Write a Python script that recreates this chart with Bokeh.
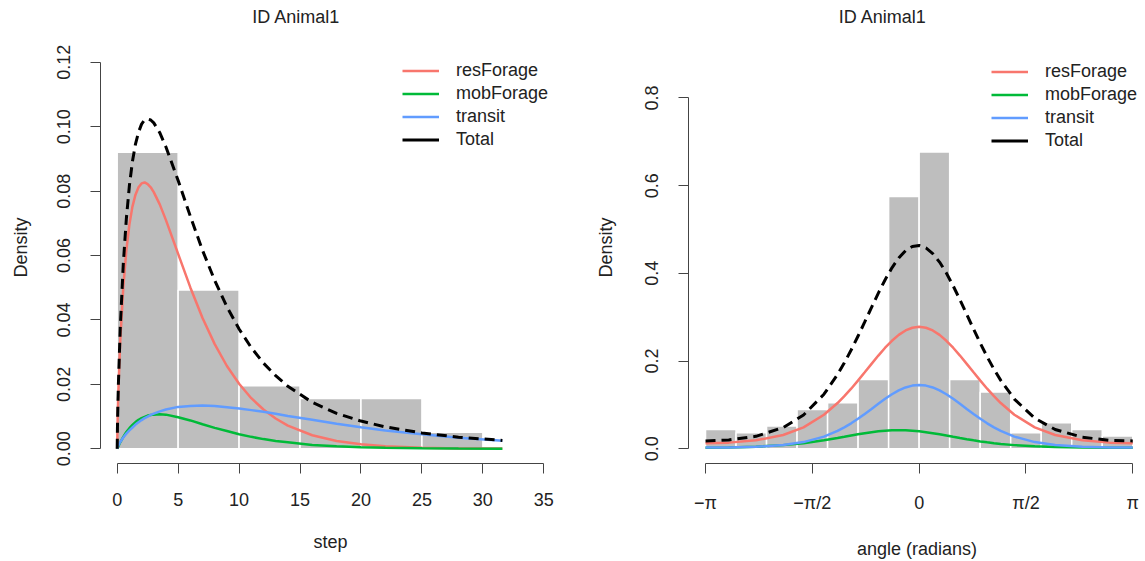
import math
from bokeh.plotting import figure
from bokeh.layouts import row
from bokeh.models import FixedTicker, Legend, LegendItem, Title, NumeralTickFormatter
from bokeh.embed import file_html
from bokeh.resources import INLINE

# ---------------- data ----------------
state_names = ["resForage", "mobForage", "transit", "Total"]
state_colors = ["#F8766D", "#00BA38", "#619CFF", "#000000"]

# step histogram (density)
step_left = [0, 5, 10, 15, 20, 25]
step_right = [5, 10, 15, 20, 25, 30]
step_density = [0.0921, 0.0493, 0.0196, 0.0156, 0.0156, 0.0051]

# step density curves
step_x = [0, 0.02, 0.05, 0.1, 0.25, 0.5, 0.75, 1, 1.25, 1.5, 1.75, 2, 2.25, 2.5,
          2.75, 3, 3.5, 4, 5, 6, 7, 8, 9, 10, 11, 12, 13, 14, 16, 18, 20, 22,
          25, 28, 31.6]
step_res = [0, 0.0062, 0.0116, 0.0185, 0.0335, 0.0502, 0.0616, 0.0696, 0.0752,
            0.0789, 0.0812, 0.0824, 0.0827, 0.0822, 0.0812, 0.0797, 0.0758,
            0.0710, 0.0605, 0.0501, 0.0406, 0.0325, 0.0257, 0.0202, 0.0157,
            0.0122, 0.0094, 0.0072, 0.0042, 0.0024, 0.0014, 0.0008, 0.0003,
            0.0001, 0.00005]
step_mob = [0, 0.0002, 0.0004, 0.0008, 0.0020, 0.0037, 0.0052, 0.0064, 0.0074,
            0.0083, 0.0090, 0.0095, 0.0099, 0.0103, 0.0105, 0.0106, 0.0107,
            0.0106, 0.0098, 0.0088, 0.0076, 0.0065, 0.0055, 0.0045, 0.0037,
            0.0030, 0.0024, 0.0020, 0.0012, 0.0008, 0.0005, 0.0003, 0.00014,
            0.00006, 0.00003]
step_transit = [0, 0.0004, 0.0006, 0.0010, 0.0021, 0.0035, 0.0047, 0.0057,
                0.0066, 0.0075, 0.0082, 0.0089, 0.0095, 0.0100, 0.0105, 0.0109,
                0.0116, 0.0122, 0.0130, 0.0133, 0.0134, 0.0133, 0.0129, 0.0125,
                0.0120, 0.0115, 0.0109, 0.0102, 0.0090, 0.0078, 0.0067, 0.0057,
                0.0045, 0.0034, 0.0025]
step_total = [0, 0.0064, 0.0125, 0.0203, 0.0375, 0.0574, 0.0714, 0.0817, 0.0892,
              0.0946, 0.0983, 0.1008, 0.1021, 0.1024, 0.1021, 0.1012, 0.0981,
              0.0937, 0.0833, 0.0722, 0.0616, 0.0523, 0.0441, 0.0372, 0.0314,
              0.0266, 0.0227, 0.0194, 0.0144, 0.0110, 0.0086, 0.0068, 0.0049,
              0.0036, 0.0026]
step_ticks = [0, 5, 10, 15, 20, 25, 30, 35]
step_density_ticks = [0, 0.02, 0.04, 0.06, 0.08, 0.10, 0.12]

# angle histogram (density), 14 bins over [-pi, pi]
angle_left = [-3.1416, -2.6928, -2.2440, -1.7952, -1.3464, -0.8976, -0.4488,
              0.0, 0.4488, 0.8976, 1.3464, 1.7952, 2.2440, 2.6928]
angle_right = [-2.6928, -2.2440, -1.7952, -1.3464, -0.8976, -0.4488, 0.0,
               0.4488, 0.8976, 1.3464, 1.7952, 2.2440, 2.6928, 3.1416]
angle_density = [0.044, 0.0365, 0.0517, 0.0898, 0.105, 0.158, 0.575, 0.6766,
                 0.158, 0.1294, 0.0365, 0.0594, 0.044, 0.0289]

# angle density curves
angle_x = [-3.1416, -2.8, -2.4, -2.0, -1.7, -1.4, -1.2,
           -1.1, -1.0, -0.9, -0.8, -0.7, -0.6, -0.5, -0.4, -0.3, -0.2, -0.1, 0.0,
           0.1, 0.2, 0.3, 0.4, 0.5, 0.6, 0.7, 0.8, 0.9, 1.0, 1.1, 1.2,
           1.4, 1.7, 2.0, 2.4, 2.8, 3.1416]
angle_res = [0.0128, 0.0140, 0.0192, 0.0314, 0.0489, 0.0775, 0.1042,
             0.1199, 0.1370, 0.1553, 0.1744, 0.1936, 0.2125, 0.2304, 0.2463,
             0.2597, 0.2698, 0.2760, 0.2782,
             0.2760, 0.2698, 0.2597, 0.2463, 0.2304, 0.2125, 0.1936, 0.1744,
             0.1553, 0.1370, 0.1199, 0.1042,
             0.0775, 0.0489, 0.0314, 0.0192, 0.0140, 0.0128]
angle_mob = [0.0025, 0.0031, 0.0048, 0.0083, 0.0127, 0.0192, 0.0245,
             0.0273, 0.0302, 0.0329, 0.0355, 0.0379, 0.0398, 0.0412, 0.0421,
             0.0424, 0.0421, 0.0412, 0.0398,
             0.0379, 0.0355, 0.0329, 0.0302, 0.0273, 0.0245, 0.0218, 0.0192,
             0.0168, 0.0147, 0.0127, 0.0110,
             0.0083, 0.0055, 0.0038, 0.0027, 0.0023, 0.0025]
angle_transit = [0.0027, 0.0030, 0.0045, 0.0086, 0.0152, 0.0277, 0.0407,
                 0.0488, 0.0580, 0.0683, 0.0793, 0.0909, 0.1026, 0.1139,
                 0.1243, 0.1331, 0.1398, 0.1440, 0.1455,
                 0.1440, 0.1398, 0.1331, 0.1243, 0.1139, 0.1026, 0.0909,
                 0.0793, 0.0683, 0.0580, 0.0488, 0.0407,
                 0.0277, 0.0152, 0.0086, 0.0045, 0.0030, 0.0027]
angle_total = [0.0179, 0.0201, 0.0284, 0.0483, 0.0769, 0.1244, 0.1694,
               0.1960, 0.2252, 0.2565, 0.2892, 0.3224, 0.3549, 0.3855, 0.4127,
               0.4352, 0.4517, 0.4612, 0.4635,
               0.4579, 0.4451, 0.4257, 0.4008, 0.3716, 0.3396, 0.3063, 0.2729,
               0.2404, 0.2097, 0.1814, 0.1559,
               0.1134, 0.0696, 0.0438, 0.0263, 0.0193, 0.0179]
angle_ticks = [-math.pi, -math.pi / 2, 0, math.pi / 2, math.pi]
angle_tick_labels = ["\u2212\u03c0", "\u2212\u03c0/2", "0", "\u03c0/2", "\u03c0"]
angle_density_ticks = [0, 0.2, 0.4, 0.6, 0.8]

panel_title = "ID Animal1"
y_label = "Density"
step_label = "step"
angle_label = "angle (radians)"

# ---------------- style ----------------
FONT = "Liberation Sans"
TXT = "#222222"
AXC = "#444444"
FS = "18px"


def make_title(offset):
    return Title(text=panel_title, align="left", offset=offset,
                 vertical_align="bottom", standoff=9,
                 text_font=FONT, text_font_size=FS, text_font_style="normal",
                 text_color=TXT)


def style_axes(p, ylab_standoff):
    p.outline_line_color = None
    p.xgrid.visible = False
    p.ygrid.visible = False
    for ax in (p.xaxis[0], p.yaxis[0]):
        ax.axis_line_color = AXC
        ax.axis_line_width = 1
        ax.major_tick_line_color = AXC
        ax.major_tick_out = 10
        ax.major_tick_in = 0
        ax.minor_tick_line_color = None
        ax.major_label_text_font = FONT
        ax.major_label_text_font_size = FS
        ax.major_label_text_color = TXT
        ax.axis_label_text_font = FONT
        ax.axis_label_text_font_size = FS
        ax.axis_label_text_font_style = "normal"
        ax.axis_label_text_color = TXT
    p.yaxis.major_label_orientation = "vertical"
    p.yaxis.major_label_standoff = 20
    p.yaxis.axis_label_standoff = ylab_standoff
    p.xaxis.major_label_standoff = 19
    p.xaxis.axis_label_standoff = 23
    p.yaxis.axis_label = y_label


def add_curves(p, x, series, loc):
    rends = []
    for ys, col in zip(series[:3], state_colors[:3]):
        rends.append(p.line(x, ys, line_color=col, line_width=2.5))
    p.line(x, series[3], line_color=state_colors[3], line_width=3,
           line_dash="10 6")
    # solid key line for "Total" (hidden renderer, used only by the legend)
    key = p.line(x, series[3], line_color=state_colors[3], line_width=3,
                 visible=False)
    rends.append(key)
    items = [LegendItem(label=n, renderers=[r]) for n, r in zip(state_names, rends)]
    leg = Legend(items=items, location=loc, border_line_color=None,
                 background_fill_alpha=0, padding=0, margin=0, spacing=2,
                 glyph_width=37, glyph_height=21, label_height=21,
                 label_standoff=17, label_text_font=FONT,
                 label_text_font_size=FS, label_text_color=TXT,
                 click_policy="none")
    p.add_layout(leg)


# ---------------- left panel: step ----------------
p1 = figure(width=580, height=561, x_range=(-1.370, 36.369),
            y_range=(-0.004575, 0.12957), output_backend="svg",
            toolbar_location=None, title=make_title(151.7),
            min_border_left=100, min_border_right=20, min_border_bottom=98,
            min_border_top=0)
style_axes(p1, 24)
p1.quad(left=step_left, right=step_right, top=step_density, bottom=0,
        fill_color="#BEBEBE", line_color="white", line_width=1.5)
add_curves(p1, step_x, [step_res, step_mob, step_transit, step_total], (302, 313))
p1.xaxis.ticker = FixedTicker(ticks=step_ticks)
p1.xaxis.bounds = (step_ticks[0], step_ticks[-1])
p1.yaxis.ticker = FixedTicker(ticks=step_density_ticks)
p1.yaxis.bounds = (step_density_ticks[0], step_density_ticks[-1])
p1.yaxis.formatter = NumeralTickFormatter(format="0.00")
p1.xaxis.axis_label = step_label

# ---------------- right panel: angle ----------------
p2 = figure(width=565, height=561, x_range=(-3.3919, 3.3287),
            y_range=(-0.0336, 0.9515), output_backend="svg",
            toolbar_location=None, title=make_title(150.3),
            min_border_left=108, min_border_right=0, min_border_bottom=98,
            min_border_top=0)
style_axes(p2, 27)
p2.quad(left=angle_left, right=angle_right, top=angle_density, bottom=0,
        fill_color="#BEBEBE", line_color="white", line_width=1.5)
add_curves(p2, angle_x, [angle_res, angle_mob, angle_transit, angle_total], (303, 312))
p2.xaxis.ticker = FixedTicker(ticks=angle_ticks)
p2.xaxis.major_label_overrides = dict(zip(angle_ticks, angle_tick_labels))
p2.xaxis.bounds = (angle_ticks[0], angle_ticks[-1])
p2.yaxis.ticker = FixedTicker(ticks=angle_density_ticks)
p2.yaxis.bounds = (angle_density_ticks[0], angle_density_ticks[-1])
p2.yaxis.formatter = NumeralTickFormatter(format="0.0")
p2.xaxis.axis_label = angle_label

layout = row(p1, p2)
open("out.html", "w").write(file_html(layout, INLINE))
